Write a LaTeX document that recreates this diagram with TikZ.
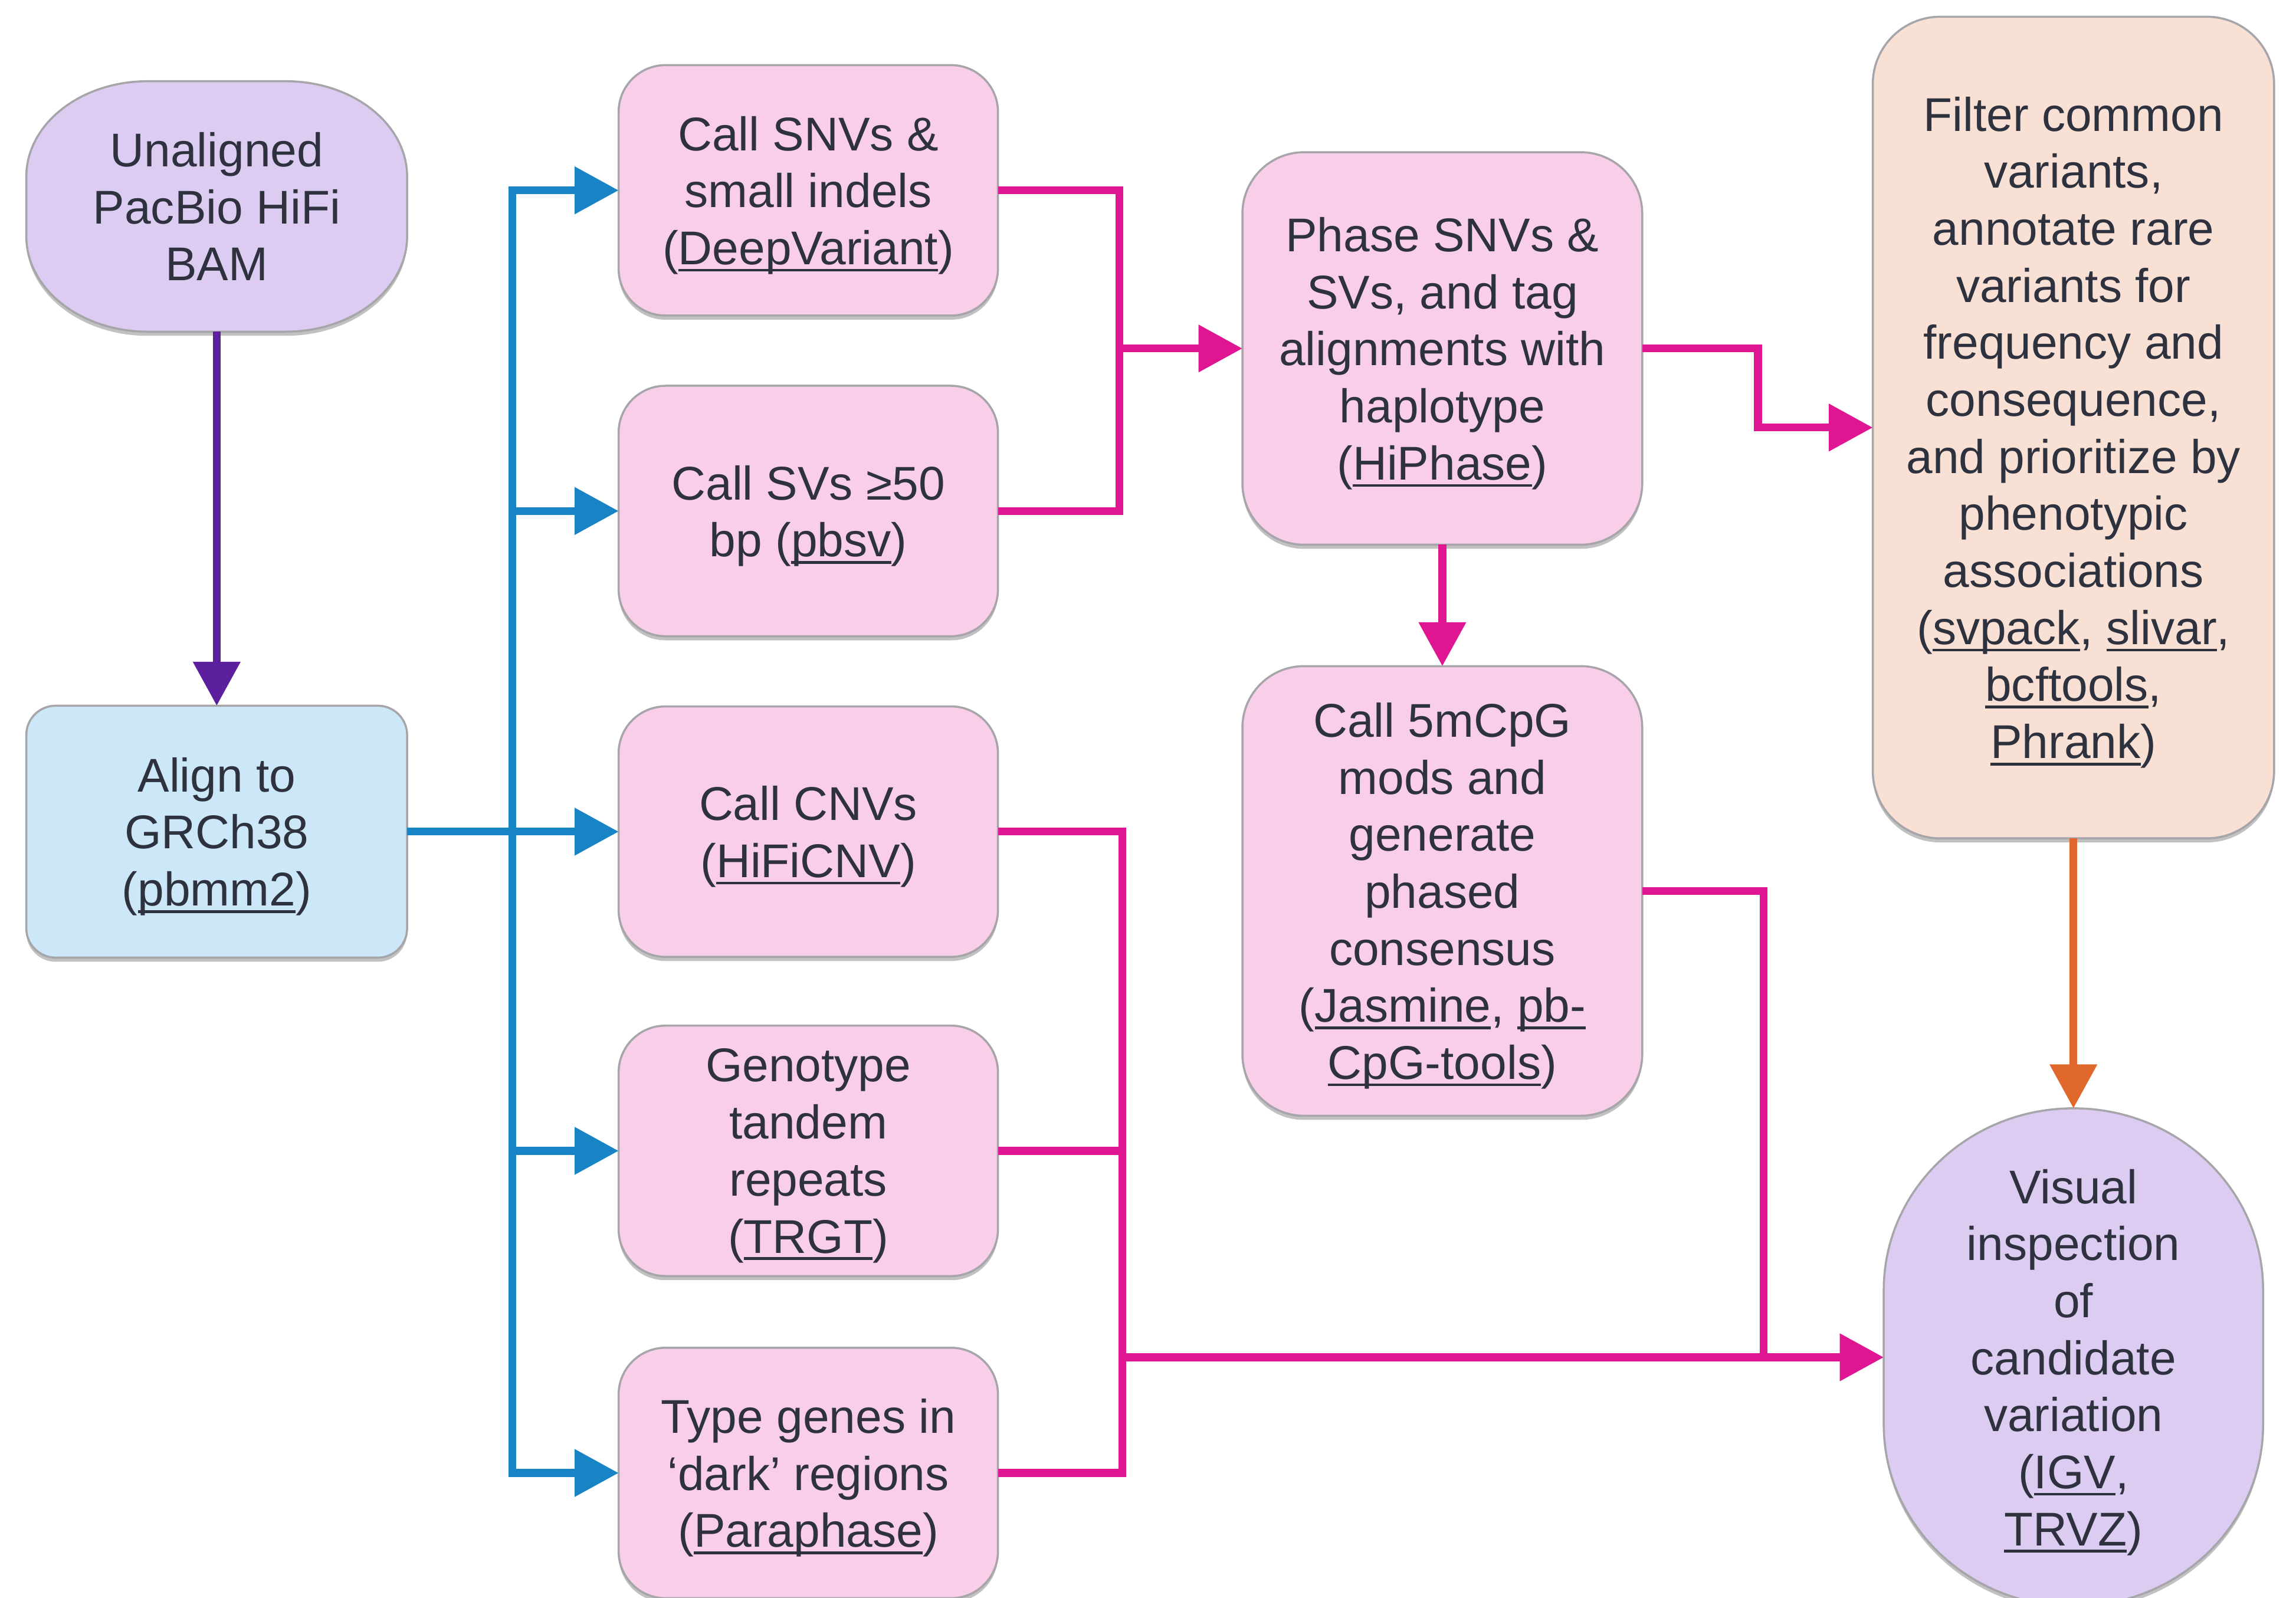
\documentclass[tikz,border=0pt]{standalone}
\usepackage{fontspec}
\setmainfont{Liberation Sans}
\usetikzlibrary{arrows.meta, positioning, calc, shadows, backgrounds}
\definecolor{gnLilac}{RGB}{220,204,241}
\definecolor{gnPink}{RGB}{249,206,233}
\definecolor{gnSky}{RGB}{204,231,248}
\definecolor{gnPeach}{RGB}{248,224,213}
\definecolor{gnText}{RGB}{46,49,62}
\definecolor{gnEdge}{RGB}{165,165,170}
\definecolor{gnBlueDk}{RGB}{24,132,198}
\definecolor{gnPinkDk}{RGB}{224,21,145}
\definecolor{gnPurpleDk}{RGB}{92,31,158}
\definecolor{gnOrangeDk}{RGB}{225,104,44}
\newcommand{\boxfont}{\fontsize{23}{27.7}\selectfont}
% tool names are underlined just under the baseline
\newcommand{\tool}[1]{\setbox0\hbox{#1}\rlap{\rule[-3.4pt]{\wd0}{1.3pt}}\box0}
% box with elliptical corners, drawn round a node that has no outline
\newcommand{\ovalpath}[4]{%
  \fill[#4, draw=gnEdge, line width=1pt, softshadow]
    ($(#1.south west)+(0,#3)$) -- ($(#1.north west)-(0,#3)$)
    arc[start angle=180, end angle=90, x radius=#2, y radius=#3]
    -- ($(#1.north east)-(#2,0)$)
    arc[start angle=90, end angle=0, x radius=#2, y radius=#3]
    -- ($(#1.south east)+(0,#3)$)
    arc[start angle=0, end angle=-90, x radius=#2, y radius=#3]
    -- ($(#1.south west)+(#2,0)$)
    arc[start angle=-90, end angle=-180, x radius=#2, y radius=#3] -- cycle;}
\tikzset{
  softshadow/.style={drop shadow={shadow xshift=0pt, shadow yshift=-2pt,
    opacity=0.35, fill=black!70}},
  stepbox/.style={rectangle, rounded corners=0.8cm, draw=gnEdge, line width=1pt,
    fill=gnPink, softshadow, text=gnText, align=center, font=\boxfont, text depth=0pt,
    minimum width=6.475cm, minimum height=4.275cm, inner sep=0pt, outer sep=0pt},
  termtext/.style={rectangle, text=gnText, align=center, font=\boxfont, text depth=0pt,
    inner sep=0pt, outer sep=0pt},
  link/.style={line width=3.8pt},
  bluearrow/.style={link, draw=gnBlueDk, -{Triangle[length=0.75cm, width=0.78cm]}},
  pinkline/.style={link, draw=gnPinkDk},
  pinkarrow/.style={link, draw=gnPinkDk, -{Triangle[length=0.75cm, width=0.78cm]}},
  purplearrow/.style={link, draw=gnPurpleDk, -{Triangle[length=0.75cm, width=0.78cm]}},
  orangearrow/.style={link, draw=gnOrangeDk, -{Triangle[length=0.75cm, width=0.78cm]}},
}

\begin{document}
\begin{tikzpicture}[x=0.025cm, y=-0.025cm]
\useasboundingbox (0,0) rectangle (1568,1091);

%% INPUT AND ALIGNMENT
\node[termtext, minimum width=6.5cm, minimum height=4.275cm] (bam) at (148,141)
  {Unaligned\\ PacBio HiFi\\ BAM};
\node[stepbox, fill=gnSky, rounded corners=0.5cm, minimum width=6.5cm,
  minimum height=4.3cm] (align) at (148,568)
  {Align to\\ GRCh38\\ (\tool{pbmm2})};

%% VARIANT CALLERS
\node[stepbox] (snv) at (552,130)
  {Call SNVs \&\\ small indels\\ (\tool{DeepVariant})};
\node[stepbox] (sv) at (552,349)
  {Call SVs ≥50\\ bp (\tool{pbsv})};
\node[stepbox] (cnv) at (552,568)
  {Call CNVs\\ (\tool{HiFiCNV})};
\node[stepbox] (trgt) at (552,786)
  {Genotype\\ tandem\\ repeats\\ (\tool{TRGT})};
\node[stepbox] (para) at (552,1006)
  {Type genes in\\ ‘dark’ regions\\ (\tool{Paraphase})};

%% PHASING AND METHYLATION
\node[stepbox, rounded corners=1.05cm, minimum width=6.825cm, minimum height=6.7cm]
  (phase) at (985,238)
  {Phase SNVs \&\\ SVs, and tag\\ alignments with\\ haplotype\\ (\tool{HiPhase})};
\node[stepbox, rounded corners=1.05cm, minimum width=6.825cm, minimum height=7.675cm]
  (cpg) at (985,608.5)
  {Call 5mCpG\\ mods and\\ generate\\ phased\\ consensus\\
   (\tool{Jasmine}, \tool{pb-}\\ \tool{CpG-tools})};

%% FILTERING AND REVIEW
\node[stepbox, fill=gnPeach, rounded corners=1.15cm, minimum width=6.85cm,
  minimum height=14.025cm] (filter) at (1416,292)
  {Filter common\\ variants,\\ annotate rare\\ variants for\\ frequency and\\
   consequence,\\ and prioritize by\\ phenotypic\\ associations\\
   (\tool{svpack}, \tool{slivar},\\ \tool{bcftools},\\ \tool{Phrank})};
\node[termtext, minimum width=6.475cm, minimum height=8.5cm] (visual) at (1416,927)
  {Visual\\ inspection\\ of\\ candidate\\ variation\\ (\tool{IGV},\\ \tool{TRVZ})};

\begin{pgfonlayer}{background}
  \ovalpath{bam}{2.07cm}{1.63cm}{gnLilac}
  \ovalpath{visual}{3.2375cm}{3.1cm}{gnLilac}
\end{pgfonlayer}

%% ARROWS -- alignment fans out to the callers
\draw[purplearrow] (bam.south) -- (align.north);
\draw[bluearrow] (align.east) -- ++(72,0) |- (snv.west);
\draw[bluearrow] (align.east) -- ++(72,0) |- (sv.west);
\draw[bluearrow] (align.east) -- (cnv.west);
\draw[bluearrow] (align.east) -- ++(72,0) |- (trgt.west);
\draw[bluearrow] (align.east) -- ++(72,0) |- (para.west);

%% ARROWS -- small variants and SVs go to phasing
\path (snv.east) ++(83,0) coordinate (colA);
\coordinate (joinA) at (colA |- phase.west);
\draw[pinkline] (snv.east) -- (colA) |- (sv.east);
\draw[pinkarrow] (joinA) -- (phase.west);
\draw[pinkarrow] (phase.east) -- ++(79,0) |- (filter.west);
\draw[pinkarrow] (phase.south) -- (cpg.north);

%% ARROWS -- everything else meets before visual inspection
\path (cnv.east) ++(85,0) coordinate (colB);
\coordinate (joinB) at (colB |- visual.west);
\draw[pinkline] (cnv.east) -- (colB) |- (para.east);
\draw[pinkline] (trgt.east) -- (trgt.east -| colB);
\draw[pinkarrow] (joinB) -- (visual.west);
\path (cpg.east) ++(83,0) coordinate (colC);
\draw[pinkline] (cpg.east) -- (colC) -- (colC |- visual.west);
\draw[orangearrow] (filter.south) -- (visual.north);

\end{tikzpicture}
\end{document}
